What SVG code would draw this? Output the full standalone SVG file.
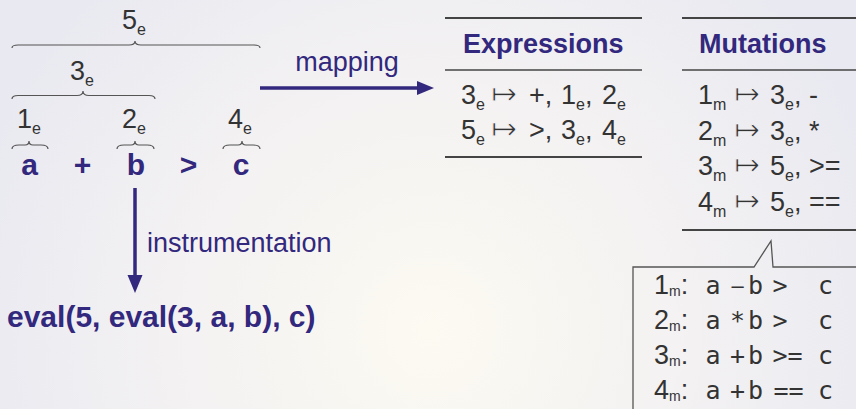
<svg xmlns="http://www.w3.org/2000/svg" width="856" height="409" viewBox="0 0 856 409">
<defs>
<radialGradient id="bg" cx="430" cy="330" r="480" gradientUnits="userSpaceOnUse">
<stop offset="0" stop-color="#fcfaf1"/>
<stop offset="0.5" stop-color="#f4f2f2"/>
<stop offset="1" stop-color="#e9e9f1"/>
</radialGradient>
</defs>
<style>
text{font-family:"Liberation Sans",Arial,"DejaVu Sans",sans-serif;fill:#333}
.lbl{font-size:27px}
.sub{font-size:16px}
.csub{font-size:14px}
.code{font-size:30px;font-weight:bold;fill:#32287d}
.hdr{font-size:27px;font-weight:bold;fill:#32287d}
.pl{font-size:27px;fill:#32287d}
.row{font-size:27px}
.cr{font-size:27px}
.tt{font-family:"DejaVu Sans Mono","Liberation Mono",monospace;font-size:25px}
.brace{fill:none;stroke:#555;stroke-width:1.2}
.rule{stroke:#444;stroke-width:2}
.rule2{stroke:#444;stroke-width:1.3}
.arr{stroke:#32287d;stroke-width:3.5;fill:none}
.head{fill:#32287d}
.mt{font-family:"DejaVu Sans",sans-serif;font-size:31px;stroke:#f2f1f3;stroke-width:0.9px}
</style>
<rect width="856" height="409" fill="url(#bg)"/>

<g id="expr-tree">
<path class="brace" d="M12,48 Q12,45 18,45 L129,45 Q135,45 135,41 Q135,45 141,45 L254,45 Q260,45 260,48"/>
<path class="brace" d="M12,99 Q12,95.5 18,95.5 L77,95.5 Q83,95.5 83,91 Q83,95.5 89,95.5 L149,95.5 Q155,95.5 155,99"/>
<path class="brace" d="M12,149 Q12,145 19,145 L25,145 Q29,145 29,141 Q29,145 33,145 L41,145 Q48,145 48,149"/>
<path class="brace" d="M117,149 Q117,145 124,145 L131,145 Q135,145 135,141 Q135,145 139,145 L147,145 Q154,145 154,149"/>
<path class="brace" d="M223,149 Q223,145 230,145 L238,145 Q242,145 242,141 Q242,145 246,145 L253,145 Q260,145 260,149"/>
<text class="lbl" x="122" y="29">5<tspan class="sub" dy="6">e</tspan></text>
<text class="lbl" x="70" y="80">3<tspan class="sub" dy="6">e</tspan></text>
<text class="lbl" x="17" y="128">1<tspan class="sub" dy="6">e</tspan></text>
<text class="lbl" x="122" y="128">2<tspan class="sub" dy="6">e</tspan></text>
<text class="lbl" x="228" y="128">4<tspan class="sub" dy="6">e</tspan></text>
<g text-anchor="middle">
<text class="code" x="29.5" y="175">a</text>
<text class="code" x="82.5" y="175">+</text>
<text class="code" x="136" y="175">b</text>
<text class="code" x="188.5" y="175">&gt;</text>
<text class="code" x="241" y="175">c</text>
</g>
</g>

<g id="connectors">
<line class="arr" x1="260" y1="88" x2="419" y2="88"/>
<polygon class="head" points="417,81 434,88 417,95"/>
<text class="pl" x="347" y="71" text-anchor="middle">mapping</text>
<line class="arr" x1="135" y1="188" x2="135" y2="277"/>
<polygon class="head" points="127.5,275 142.5,275 135,293"/>
<text class="pl" x="147" y="252">instrumentation</text>
</g>

<g id="instrumented">
<text class="code" x="7" y="327">eval(5, eval(3, a, b), c)</text>
</g>

<g id="expressions-table">
<line class="rule" x1="445" y1="18" x2="642" y2="18"/>
<line class="rule2" x1="445" y1="70" x2="642" y2="70"/>
<line class="rule" x1="445" y1="157" x2="642" y2="157"/>
<text class="hdr" x="463" y="53">Expressions</text>
<text class="row" y="104"><tspan x="461">3</tspan><tspan class="sub" dy="6">e</tspan><tspan class="mt" x="491" dy="-6">↦</tspan><tspan x="529">+,</tspan><tspan x="561">1</tspan><tspan class="sub" dy="6">e</tspan><tspan dy="-6">,</tspan><tspan x="602">2</tspan><tspan class="sub" dy="6">e</tspan></text>
<text class="row" y="139"><tspan x="461">5</tspan><tspan class="sub" dy="6">e</tspan><tspan class="mt" x="491" dy="-6">↦</tspan><tspan x="529">&gt;,</tspan><tspan x="561">3</tspan><tspan class="sub" dy="6">e</tspan><tspan dy="-6">,</tspan><tspan x="602">4</tspan><tspan class="sub" dy="6">e</tspan></text>
</g>

<g id="mutations-table">
<line class="rule" x1="682" y1="18" x2="856" y2="18"/>
<line class="rule2" x1="682" y1="70" x2="856" y2="70"/>
<line class="rule" x1="682" y1="230" x2="856" y2="230"/>
<text class="hdr" x="699" y="53">Mutations</text>
<text class="row" y="104"><tspan x="698">1</tspan><tspan class="sub" dy="6">m</tspan><tspan class="mt" x="734" dy="-6">↦</tspan><tspan x="770">3</tspan><tspan class="sub" dy="6">e</tspan><tspan dy="-6">, -</tspan></text>
<text class="row" y="139.5"><tspan x="698">2</tspan><tspan class="sub" dy="6">m</tspan><tspan class="mt" x="734" dy="-6">↦</tspan><tspan x="770">3</tspan><tspan class="sub" dy="6">e</tspan><tspan dy="-6">, *</tspan></text>
<text class="row" y="175"><tspan x="698">3</tspan><tspan class="sub" dy="6">m</tspan><tspan class="mt" x="734" dy="-6">↦</tspan><tspan x="770">5</tspan><tspan class="sub" dy="6">e</tspan><tspan dy="-6">, &gt;=</tspan></text>
<text class="row" y="210.5"><tspan x="698">4</tspan><tspan class="sub" dy="6">m</tspan><tspan class="mt" x="734" dy="-6">↦</tspan><tspan x="770">5</tspan><tspan class="sub" dy="6">e</tspan><tspan dy="-6">, ==</tspan></text>
</g>

<g id="mutants-callout">
<path d="M633,412 L633,267 L754,267 L771,241 L773,267 L858,267" fill="none" stroke="#555" stroke-width="1.3"/>
<text class="cr" y="294"><tspan x="654">1</tspan><tspan class="csub" dy="2">m</tspan><tspan dy="-2">:</tspan></text>
<text class="cr" y="329"><tspan x="654">2</tspan><tspan class="csub" dy="2">m</tspan><tspan dy="-2">:</tspan></text>
<text class="cr" y="364"><tspan x="654">3</tspan><tspan class="csub" dy="2">m</tspan><tspan dy="-2">:</tspan></text>
<text class="cr" y="399"><tspan x="654">4</tspan><tspan class="csub" dy="2">m</tspan><tspan dy="-2">:</tspan></text>
<g text-anchor="middle">
<text class="tt" x="713" y="294">a</text><text class="cr" x="737.5" y="293" style="font-size:22px">–</text><text class="tt" x="755.5" y="294">b</text><text class="tt" x="780" y="294">&gt;</text><text class="tt" x="825.5" y="294">c</text>
<text class="tt" x="713" y="329">a</text><text class="tt" x="737.5" y="329">*</text><text class="tt" x="755.5" y="329">b</text><text class="tt" x="780" y="329">&gt;</text><text class="tt" x="825.5" y="329">c</text>
<text class="tt" x="713" y="364">a</text><text class="tt" x="737.5" y="364">+</text><text class="tt" x="755.5" y="364">b</text><text class="tt" x="787.5" y="364">&gt;=</text><text class="tt" x="825.5" y="364">c</text>
<text class="tt" x="713" y="399">a</text><text class="tt" x="737.5" y="399">+</text><text class="tt" x="755.5" y="399">b</text><text class="tt" x="788.5" y="399">==</text><text class="tt" x="825.5" y="399">c</text>
</g>
</g>
</svg>
